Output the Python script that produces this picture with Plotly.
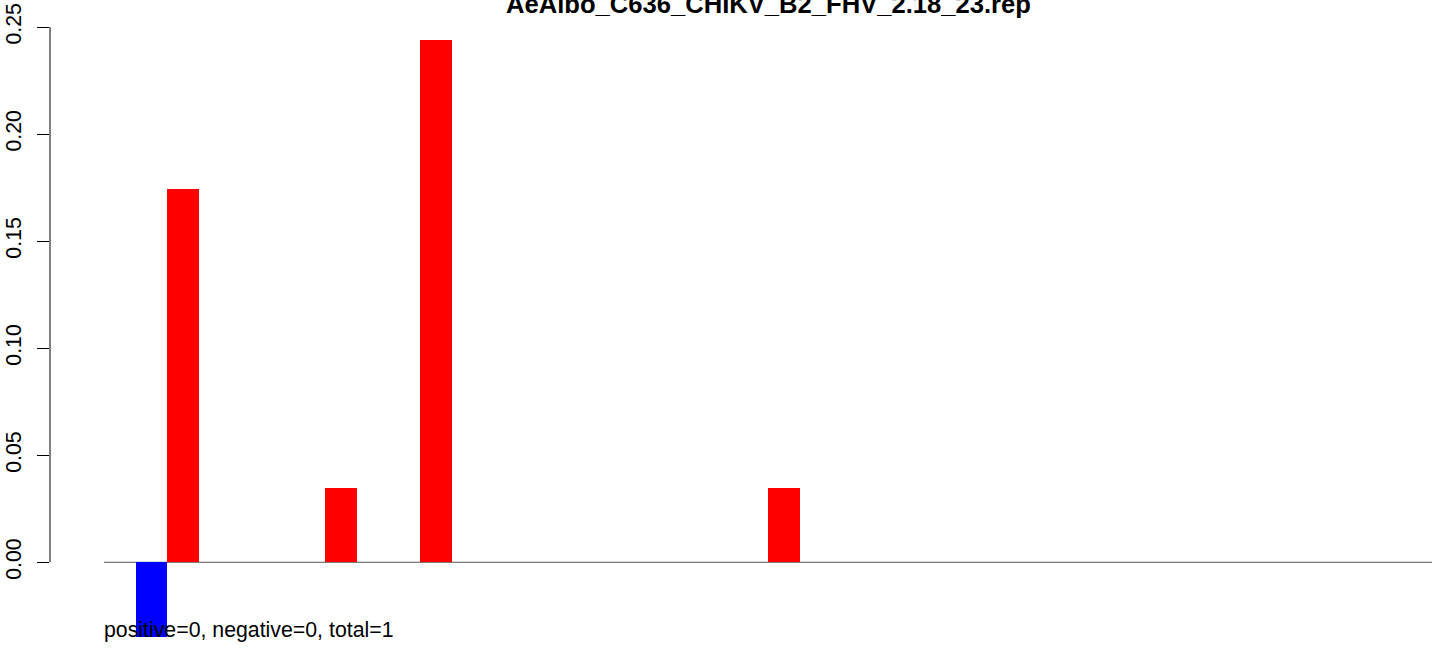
import plotly.graph_objects as go

# ---- data ----
title_text = "AeAlbo_C636_CHIKV_B2_FHV_2.18_23.rep"
footer_text = "positive=0, negative=0, total=1"

slot_index = list(range(42))
positive_values = [0, 0, 0.1742, 0, 0, 0, 0, 0.0348, 0, 0,
                   0.2438, 0, 0, 0, 0, 0, 0, 0, 0, 0,
                   0, 0.0348, 0, 0, 0, 0, 0, 0, 0, 0,
                   0, 0, 0, 0, 0, 0, 0, 0, 0, 0,
                   0, 0]
negative_values = [0, -0.035, 0, 0, 0, 0, 0, 0, 0, 0,
                   0, 0, 0, 0, 0, 0, 0, 0, 0, 0,
                   0, 0, 0, 0, 0, 0, 0, 0, 0, 0,
                   0, 0, 0, 0, 0, 0, 0, 0, 0, 0,
                   0, 0]
y_tick_values = [0.00, 0.05, 0.10, 0.15, 0.20, 0.25]
y_tick_labels = ["0.00", "0.05", "0.10", "0.15", "0.20", "0.25"]

FONT = "Liberation Sans, Arial, Helvetica, sans-serif"

fig = go.Figure()
fig.add_trace(go.Bar(x=slot_index, y=negative_values, width=1,
                     marker=dict(color="#0000FF", line=dict(width=0)),
                     hoverinfo="skip"))
fig.add_trace(go.Bar(x=slot_index, y=positive_values, width=1,
                     marker=dict(color="#FF0000", line=dict(width=0)),
                     hoverinfo="skip"))

# zero line under the bars
fig.add_shape(type="line", xref="x", yref="y", x0=-0.5, x1=41.5, y0=0, y1=0,
              line=dict(color="#555555", width=1), layer="below")
# y axis spine from 0 to 0.25
fig.add_shape(type="line", xref="paper", yref="y", x0=0, x1=0,
              y0=y_tick_values[0], y1=y_tick_values[-1],
              line=dict(color="black", width=1), layer="above")

fig.add_annotation(text="<b>" + title_text + "</b>", xref="x", yref="paper",
                   x=20.5, y=1.0375, xanchor="center", yanchor="middle",
                   showarrow=False, font=dict(family=FONT, size=25.6, color="black"))
fig.add_annotation(text=footer_text, xref="x", yref="paper",
                   x=-0.53, y=0.017, xanchor="left", yanchor="middle",
                   showarrow=False, borderpad=0,
                   font=dict(family=FONT, size=21.3, color="black"))

fig.update_layout(
    width=1444, height=648,
    margin=dict(l=50, r=12, t=27, b=8, pad=0, autoexpand=False),
    paper_bgcolor="white", plot_bgcolor="white",
    barmode="overlay", bargap=0,
    showlegend=False,
    font=dict(family=FONT, size=21.3, color="black"),
    xaxis=dict(visible=False, range=[-2.208, 41.5], fixedrange=True,
               automargin=False),
    yaxis=dict(range=[-0.0363, 0.25], tickmode="array",
               tickvals=y_tick_values, ticktext=y_tick_labels,
               ticks="outside", ticklen=12, tickwidth=1, tickcolor="black",
               tickangle=-90, showgrid=False, zeroline=False, showline=False,
               ticklabelstandoff=7, automargin=False,
               tickfont=dict(family=FONT, size=21.3, color="black"),
               fixedrange=True),
)

fig.write_html("out.html",
               config={"displayModeBar": False},
               post_script="document.body.style.margin='0px';")
